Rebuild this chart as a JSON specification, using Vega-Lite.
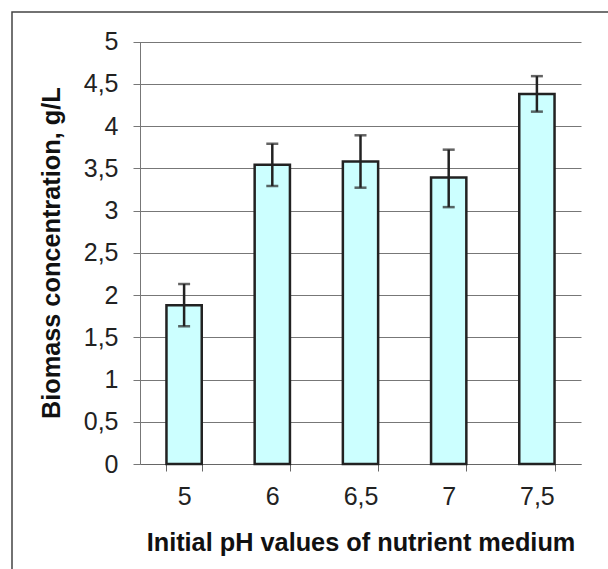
{
  "$schema": "https://vega.github.io/schema/vega-lite/v6.json",
  "width": 602,
  "height": 563,
  "padding": {"left": 12, "top": 12, "right": -6, "bottom": -6},
  "autosize": {"type": "none"},
  "background": "white",
  "config": {
    "view": {"stroke": "#444", "strokeWidth": 1.5},
    "font": "Liberation Sans"
  },
  "data": {
    "values": [
      {"pH": "5", "value": 1.88, "lo": 1.63, "hi": 2.13},
      {"pH": "6", "value": 3.54, "lo": 3.29, "hi": 3.79},
      {"pH": "6,5", "value": 3.58, "lo": 3.27, "hi": 3.89},
      {"pH": "7", "value": 3.39, "lo": 3.04, "hi": 3.72},
      {"pH": "7,5", "value": 4.38, "lo": 4.17, "hi": 4.59}
    ]
  },
  "encoding": {
    "x": {
      "field": "pH",
      "type": "nominal",
      "sort": null,
      "scale": {"range": [128, 569], "paddingInner": 0.6, "paddingOuter": 0.3},
      "axis": {
        "title": "Initial pH values of nutrient medium",
        "offset": -111,
        "labelAngle": 0,
        "tickBand": "extent",
        "tickSize": 7,
        "tickColor": "#666",
        "domainColor": "#666",
        "labelFontSize": 25,
        "labelColor": "#222",
        "labelPadding": 13,
        "titleFontSize": 25.3,
        "titleFontWeight": "bold",
        "titleColor": "#111",
        "titlePadding": 21,
        "grid": false
      }
    }
  },
  "layer": [
    {
      "mark": {"type": "bar", "fill": "#ccffff", "stroke": "#222", "strokeWidth": 2.5},
      "encoding": {
        "y": {
          "field": "value",
          "type": "quantitative",
          "scale": {"domain": [0, 5], "range": [452, 29.5], "nice": false},
          "axis": {
            "title": "Biomass concentration, g/L",
            "offset": -128,
            "values": [0, 0.5, 1, 1.5, 2, 2.5, 3, 3.5, 4, 4.5, 5],
            "labelExpr": "replace(toString(datum.value), '.', ',')",
            "tickSize": 7,
            "tickColor": "#777",
            "domainColor": "#777",
            "grid": true,
            "gridColor": "#777",
            "gridWidth": 1,
            "labelFontSize": 25,
            "labelColor": "#222",
            "labelPadding": 15,
            "titleFontSize": 25.3,
            "titleFontWeight": "bold",
            "titleColor": "#111",
            "titlePadding": 19
          }
        }
      }
    },
    {
      "mark": {
        "type": "errorbar",
        "ticks": {"size": 12, "thickness": 2.5, "color": "#222"},
        "rule": {"strokeWidth": 2.5, "color": "#222"}
      },
      "encoding": {
        "y": {"field": "lo", "type": "quantitative", "title": "Biomass concentration, g/L"},
        "y2": {"field": "hi"}
      }
    }
  ]
}
